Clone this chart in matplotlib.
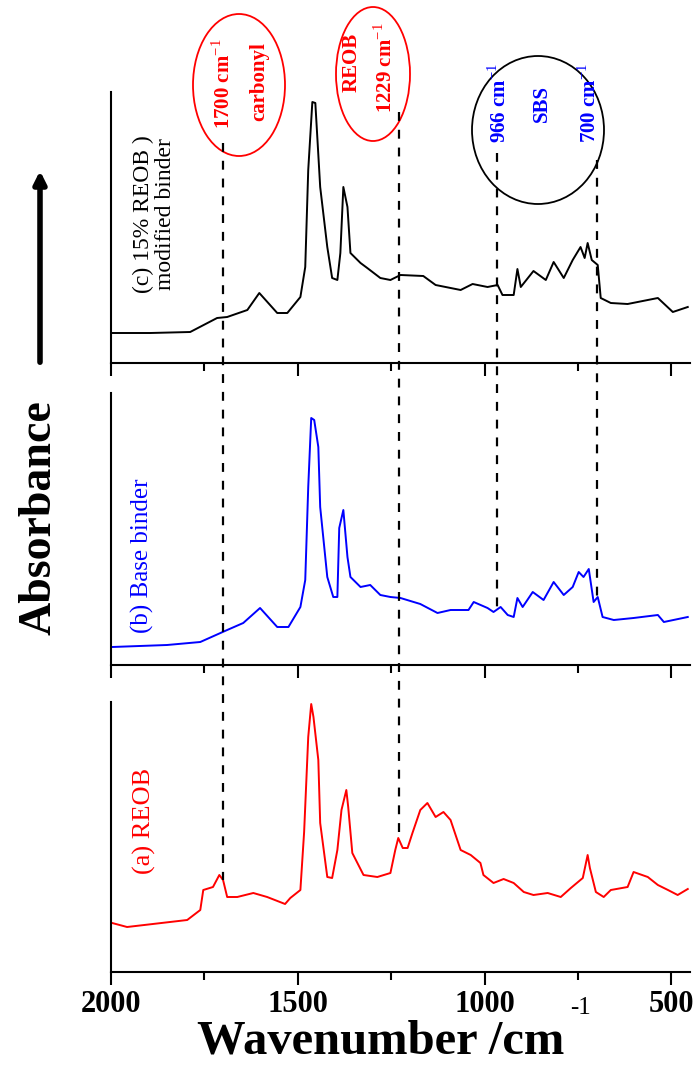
import numpy as np
import matplotlib
matplotlib.use('Agg')
import matplotlib.pyplot as plt
from matplotlib.patches import Ellipse, FancyArrowPatch
from matplotlib.lines import Line2D
from matplotlib.transforms import blended_transform_factory

plt.rcParams['font.family'] = ['Liberation Serif', 'DejaVu Serif']
plt.rcParams['mathtext.fontset'] = 'custom'
plt.rcParams['mathtext.rm'] = 'Liberation Serif'
plt.rcParams['mathtext.bf'] = 'Liberation Serif:bold'

# (c) 15% REOB modified binder
wn_c = [1997, 1895, 1788, 1716, 1689, 1635, 1603, 1555, 1528, 1493, 1480, 1472, 1461, 1453,
        1440, 1421, 1408, 1394, 1386, 1378, 1367, 1359, 1332, 1314, 1279, 1252, 1225, 1164,
        1131, 1064, 1032, 992, 965, 952, 922, 912, 903, 869, 836, 815, 788, 764, 743, 732,
        724, 713, 697, 689, 662, 617, 536, 496, 456]
ab_c = [0.30, 0.30, 0.31, 0.45, 0.46, 0.53, 0.70, 0.50, 0.50, 0.66, 0.96, 1.93, 2.61, 2.60,
        1.76, 1.16, 0.85, 0.83, 1.10, 1.76, 1.56, 1.10, 1.00, 0.95, 0.85, 0.83, 0.88, 0.87,
        0.78, 0.73, 0.79, 0.76, 0.78, 0.68, 0.68, 0.94, 0.76, 0.92, 0.83, 1.01, 0.85, 1.03,
        1.16, 1.05, 1.20, 1.03, 0.98, 0.65, 0.60, 0.59, 0.65, 0.51, 0.56]

# (b) Base binder
wn_b = [1997, 1850, 1761, 1689, 1646, 1601, 1555, 1525, 1493, 1480, 1472, 1464, 1456, 1445,
        1440, 1421, 1405, 1394, 1389, 1378, 1367, 1359, 1332, 1306, 1279, 1252, 1225, 1172,
        1126, 1091, 1043, 1029, 992, 976, 957, 938, 922, 912, 898, 871, 842, 815, 788, 764,
        748, 735, 721, 708, 697, 684, 654, 601, 536, 520, 456]
ab_b = [0.18, 0.20, 0.23, 0.35, 0.42, 0.57, 0.38, 0.38, 0.58, 0.85, 1.78, 2.47, 2.45, 2.18,
        1.58, 0.88, 0.68, 0.68, 1.37, 1.55, 1.08, 0.88, 0.78, 0.80, 0.70, 0.68, 0.67, 0.61,
        0.52, 0.55, 0.55, 0.63, 0.57, 0.53, 0.58, 0.50, 0.48, 0.67, 0.58, 0.73, 0.65, 0.83,
        0.70, 0.78, 0.93, 0.88, 0.96, 0.63, 0.68, 0.48, 0.45, 0.47, 0.50, 0.43, 0.48]

# (a) REOB
wn_a = [1997, 1957, 1796, 1761, 1753, 1727, 1710, 1700, 1689, 1662, 1619, 1582, 1534, 1520,
        1493, 1483, 1472, 1464, 1458, 1445, 1440, 1421, 1408, 1394, 1383, 1370, 1365, 1354,
        1324, 1287, 1252, 1239, 1231, 1219, 1206, 1193, 1172, 1153, 1131, 1110, 1091, 1064,
        1037, 1011, 1003, 976, 949, 922, 895, 869, 831, 796, 769, 737, 724, 718, 702, 681,
        662, 617, 601, 563, 536, 509, 483, 456]
ab_a = [0.49, 0.45, 0.52, 0.62, 0.82, 0.85, 0.97, 0.92, 0.75, 0.75, 0.79, 0.75, 0.68, 0.74,
        0.82, 1.40, 2.35, 2.68, 2.55, 2.12, 1.49, 0.95, 0.94, 1.22, 1.62, 1.82, 1.65, 1.19,
        0.97, 0.95, 0.99, 1.22, 1.34, 1.24, 1.24, 1.39, 1.62, 1.69, 1.55, 1.60, 1.52, 1.22,
        1.17, 1.09, 0.97, 0.89, 0.93, 0.89, 0.80, 0.77, 0.79, 0.75, 0.84, 0.94, 1.17, 1.04,
        0.80, 0.75, 0.82, 0.85, 1.00, 0.95, 0.87, 0.82, 0.77, 0.83]

marker_wn = [1700, 1229, 966, 700]

fig = plt.figure(figsize=(6.96, 10.74), dpi=100)
W, H = 696, 1074
left, right = 111 / W, 690 / W

def make_ax(top_px, bot_px):
    ax = fig.add_axes([left, 1 - bot_px / H, right - left, (bot_px - top_px) / H])
    ax.set_xlim(2000, 450)
    ax.set_ylim(0, (bot_px - top_px) / 100)
    for s in ['top', 'right']:
        ax.spines[s].set_visible(False)
    for s in ['left', 'bottom']:
        ax.spines[s].set_linewidth(1.5)
    ax.set_yticks([])
    ax.set_xticks([2000, 1500, 1000, 500])
    ax.set_xticks([1750, 1250, 750], minor=True)
    ax.tick_params(axis='x', which='major', direction='out', length=9, width=1.5)
    ax.tick_params(axis='x', which='minor', direction='out', length=6, width=1.5)
    return ax

ax_c = make_ax(92, 363)
ax_b = make_ax(393, 665)
ax_a = make_ax(702, 972)

ax_c.plot(wn_c, ab_c, color='black', lw=1.4)
ax_b.plot(wn_b, ab_b, color='blue', lw=1.4)
ax_a.plot(wn_a, ab_a, color='red', lw=1.4)

ax_c.tick_params(labelbottom=False)
ax_b.tick_params(labelbottom=False)
for lab in ax_a.get_xticklabels():
    lab.set_fontsize(22)
    lab.set_fontweight('bold')
ax_a.tick_params(axis='x', pad=4)

# x label with a small raised superscript
xl = fig.text(381 / W, 1 - 1042 / H, 'Wavenumber /cm', ha='center', va='center',
              fontsize=35, fontweight='bold')
fig.canvas.draw()
bb = xl.get_window_extent(fig.canvas.get_renderer())
fig.text((bb.x1 + 5) / W, (bb.y1 + 12) / H, '-1', ha='left', va='center', fontsize=18)

# panel labels
ax_c.text(0.075, 0.55, '(c) 15% REOB )\nmodified binder', transform=ax_c.transAxes,
          rotation=90, ha='center', va='center', fontsize=17, linespacing=1.0)
ax_b.text(0.055, 0.40, '(b) Base binder', transform=ax_b.transAxes, color='blue',
          rotation=90, ha='center', va='center', fontsize=18)
ax_a.text(0.058, 0.56, '(a) REOB', transform=ax_a.transAxes, color='red',
          rotation=90, ha='center', va='center', fontsize=19)

# y label and arrow
fig.text(40 / W, 1 - 518 / H, 'Absorbance', rotation=90, ha='center', va='center',
         fontsize=33, fontweight='bold')
fig.add_artist(FancyArrowPatch((40 / W, 1 - 365 / H), (40 / W, 1 - 168 / H),
               transform=fig.transFigure, arrowstyle='-|>', mutation_scale=18,
               lw=4, color='black'))

# dashed marker lines: from the annotations down to the spectrum they point at
tops_px = [143, 112, 153, 160]
ends_ax = [ax_a, ax_a, ax_b, ax_b]
ends_data = [(wn_a, ab_a), (wn_a, ab_a), (wn_b, ab_b), (wn_b, ab_b)]
trans = blended_transform_factory(ax_a.transData, fig.transFigure)
inv = fig.transFigure.inverted()
for w, t, ax, (xs, ys) in zip(marker_wn, tops_px, ends_ax, ends_data):
    yv = np.interp(w, xs[::-1], ys[::-1])
    yfig = inv.transform(ax.transData.transform((w, yv)))[1]
    fig.add_artist(Line2D([w, w], [1 - t / H, yfig], transform=trans, color='black',
                          lw=1.6, ls=(0, (4, 4))))

# ellipses
def ell(cx, cy, w, h, color):
    fig.add_artist(Ellipse((cx / W, 1 - cy / H), w / W, h / H, transform=fig.transFigure,
                           fill=False, edgecolor=color, lw=1.3))

ell(239, 85, 92, 142, 'red')
ell(373, 74, 74, 134, 'red')
ell(538, 130, 132, 148, 'black')

def vtext(x, y, s, color, size=15):
    fig.text(x / W, 1 - y / H, s, rotation=90, ha='center', va='center', color=color,
             fontsize=size, fontweight='bold')

vtext(224, 84, '1700 cm$^{-1}$', 'red')
vtext(259, 82, 'carbonyl', 'red')
vtext(352, 62, 'REOB', 'red')
vtext(386, 68, '1229 cm$^{-1}$', 'red')
vtext(499, 103, '966 cm$^{-1}$', 'blue')
vtext(542, 103, 'SBS', 'blue')
vtext(590, 103, '700 cm$^{-1}$', 'blue')

fig.savefig('out.png', dpi=100)
